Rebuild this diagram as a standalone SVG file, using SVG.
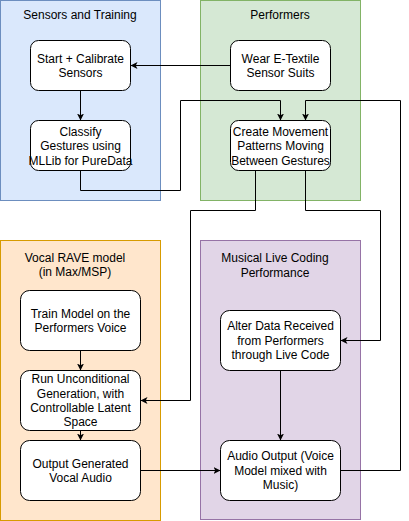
<svg xmlns="http://www.w3.org/2000/svg" width="409" height="521" viewBox="0 0 409 521">
  <defs>
    <marker id="arrow" markerUnits="userSpaceOnUse" markerWidth="8" markerHeight="8" refX="7" refY="3.5" orient="auto" viewBox="0 0 8 7">
      <path d="M0,0 L7,3.5 L0,7 L1.75,3.5 Z" fill="#000"/>
    </marker>
    <style>
      text { font-family: "Liberation Sans", Arial, Helvetica, sans-serif; font-size: 12px; fill: #000; text-anchor: middle; }
      .node { fill: #fff; stroke: #000; stroke-width: 1; }
      .edge { fill: none; stroke: #000; stroke-width: 1; marker-end: url(#arrow); }
    </style>
  </defs>
  <rect width="409" height="521" fill="#fff"/>

  <g id="container-sensors">
    <rect x="0.5" y="0.5" width="160" height="200" fill="#dae8fc" stroke="#6c8ebf"/>
    <text x="80" y="19">Sensors and Training</text>
  </g>
  <g id="container-performers">
    <rect x="200.5" y="0.5" width="160" height="200" fill="#d5e8d4" stroke="#82b366"/>
    <text x="280" y="19">Performers</text>
  </g>
  <g id="container-rave">
    <rect x="0.5" y="240.5" width="160" height="280" fill="#ffe6cc" stroke="#d79b00"/>
    <text x="75" y="261.5">Vocal RAVE model<tspan x="75" dy="14.6">(in Max/MSP)</tspan></text>
  </g>
  <g id="container-livecoding">
    <rect x="200.5" y="240.5" width="160" height="279" fill="#e1d5e7" stroke="#9673a6"/>
    <text x="275" y="262">Musical Live Coding<tspan x="275" dy="14.6">Performance</tspan></text>
  </g>

  <g id="connectors">
    <path class="edge" d="M230.5,65.5 H130.5"/>
    <path class="edge" d="M80.5,90.5 V120.5"/>
    <path class="edge" d="M80.5,170.5 V190.5 H180.5 V100.5 H280.5 V120.5"/>
    <path class="edge" d="M340.5,470.5 H400.5 V100.5 H305.5 V120.5"/>
    <path class="edge" d="M255.5,170.5 V210.5 H190.5 V400.5 H140.5"/>
    <path class="edge" d="M305.5,170.5 V210.5 H380.5 V340.5 H340.5"/>
    <path class="edge" d="M80.5,350.5 V370.5"/>
    <path class="edge" d="M80.5,430.5 V440.5"/>
    <path class="edge" d="M140.5,470.5 H220.5"/>
    <path class="edge" d="M280.5,370.5 V440.5"/>
  </g>

  <g id="node-start">
    <rect class="node" x="30.5" y="40.5" width="100" height="50" rx="8"/>
    <text x="80.5" y="62.5">Start + Calibrate<tspan x="80.5" dy="14.4">Sensors</tspan></text>
  </g>
  <g id="node-classify">
    <rect class="node" x="30.5" y="120.5" width="100" height="50" rx="8"/>
    <text x="80.5" y="135.8">Classify<tspan x="80.5" dy="14.4">Gestures using</tspan><tspan x="80.5" dy="14.4">MLLib for PureData</tspan></text>
  </g>
  <g id="node-wear">
    <rect class="node" x="230.5" y="40.5" width="100" height="50" rx="8"/>
    <text x="280.5" y="62.5">Wear E-Textile<tspan x="280.5" dy="14.4">Sensor Suits</tspan></text>
  </g>
  <g id="node-create">
    <rect class="node" x="230.5" y="120.5" width="100" height="50" rx="8"/>
    <text x="280.5" y="135.8">Create Movement<tspan x="280.5" dy="14.4">Patterns Moving</tspan><tspan x="280.5" dy="14.4">Between Gestures</tspan></text>
  </g>
  <g id="node-train">
    <rect class="node" x="20.5" y="290.5" width="120" height="60" rx="9"/>
    <text x="80.5" y="317.5">Train Model on the<tspan x="80.5" dy="14.4">Performers Voice</tspan></text>
  </g>
  <g id="node-run">
    <rect class="node" x="20.5" y="370.5" width="120" height="60" rx="9"/>
    <text x="80.5" y="383.1">Run Unconditional<tspan x="80.5" dy="14.4">Generation, with</tspan><tspan x="80.5" dy="14.4">Controllable Latent</tspan><tspan x="80.5" dy="14.4">Space</tspan></text>
  </g>
  <g id="node-output">
    <rect class="node" x="20.5" y="440.5" width="120" height="60" rx="9"/>
    <text x="80.5" y="467.5">Output Generated<tspan x="80.5" dy="14.4">Vocal Audio</tspan></text>
  </g>
  <g id="node-alter">
    <rect class="node" x="220.5" y="310.5" width="120" height="60" rx="9"/>
    <text x="280.5" y="330.3">Alter Data Received<tspan x="280.5" dy="14.4">from Performers</tspan><tspan x="280.5" dy="14.4">through Live Code</tspan></text>
  </g>
  <g id="node-audio">
    <rect class="node" x="220.5" y="440.5" width="120" height="60" rx="9"/>
    <text x="280.5" y="460.3">Audio Output (Voice<tspan x="280.5" dy="14.4">Model mixed with</tspan><tspan x="280.5" dy="14.4">Music)</tspan></text>
  </g>
</svg>
